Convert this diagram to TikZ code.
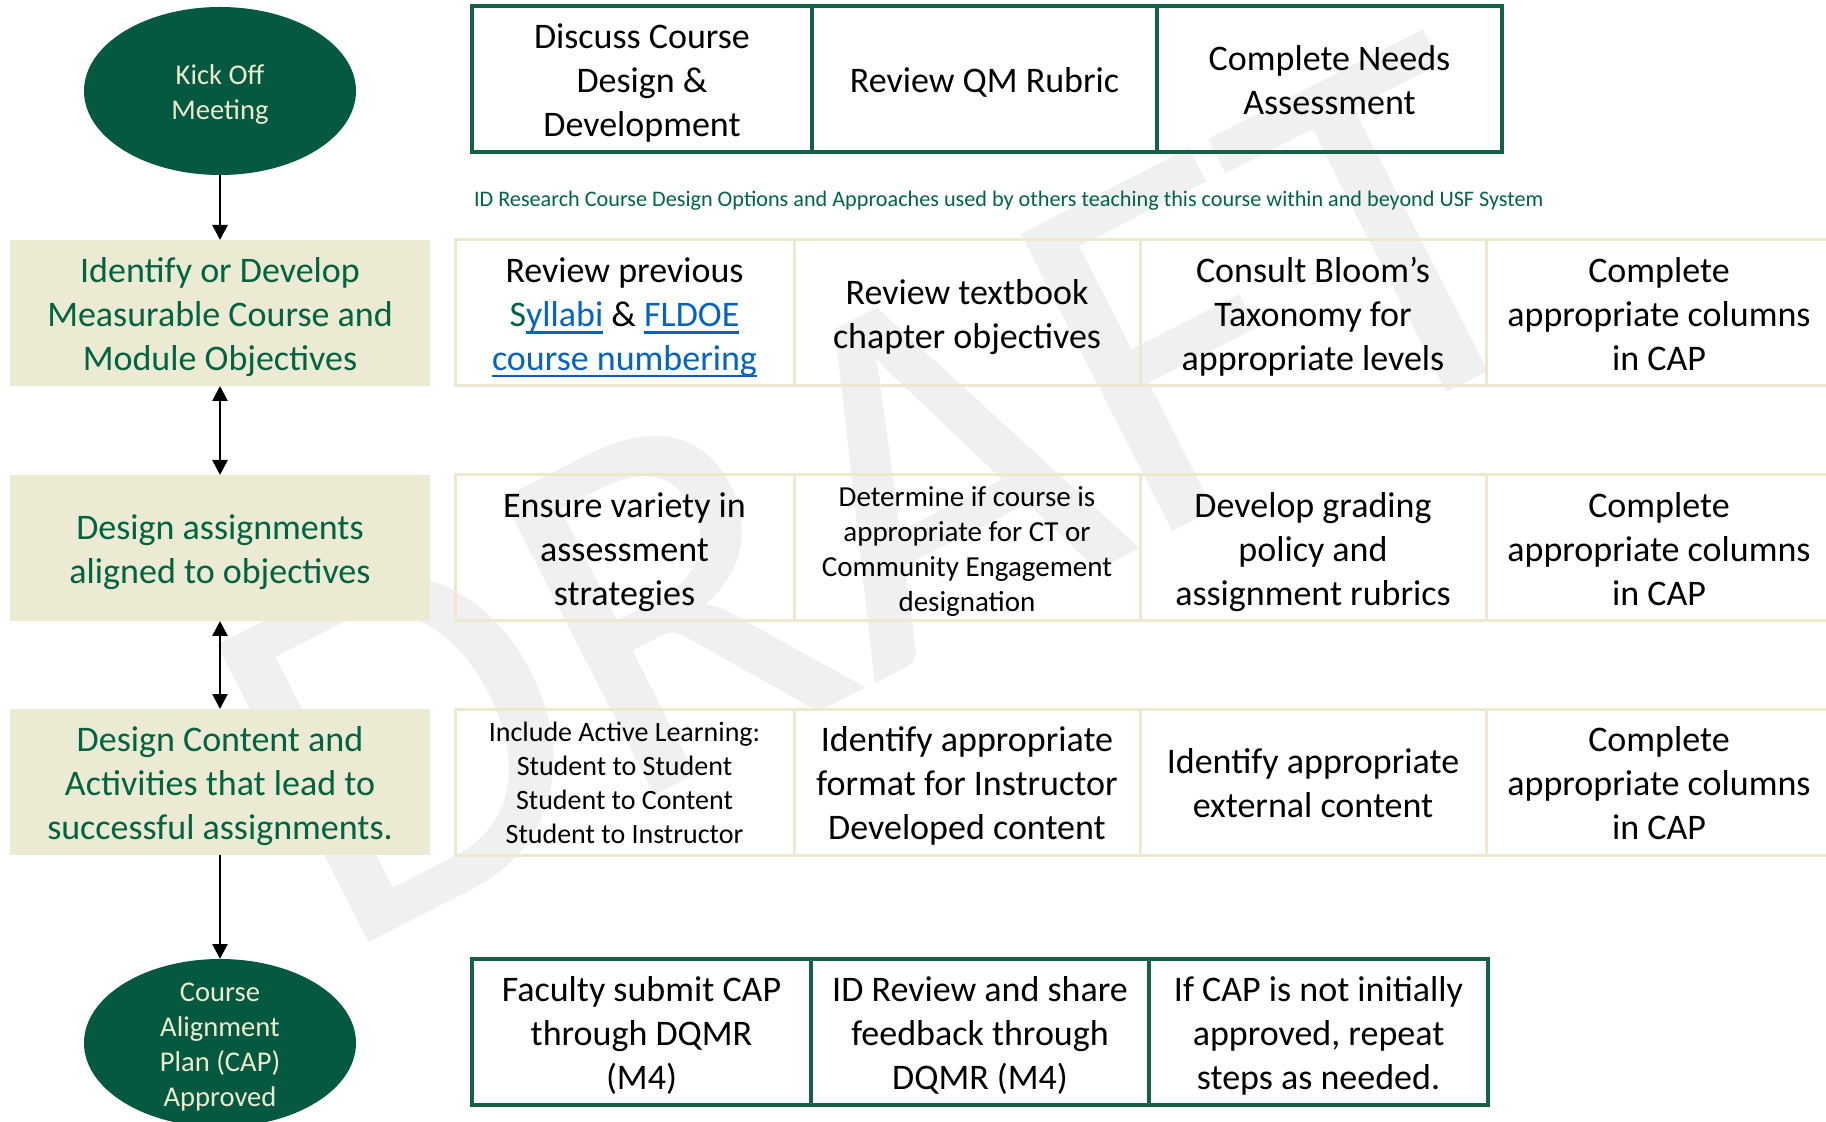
\documentclass[tikz,border=0pt]{standalone}
\usepackage{fontspec}
\setmainfont{Carlito}
\usetikzlibrary{arrows.meta,shapes.geometric}
\definecolor{usfgreen}{RGB}{4,89,64}
\definecolor{boxgreen}{RGB}{20,96,72}
\definecolor{stagetext}{RGB}{0,99,65}
\definecolor{idgreen}{RGB}{0,100,70}
\definecolor{cream}{RGB}{237,235,205}
\definecolor{sand}{RGB}{236,234,210}
\definecolor{cellline}{RGB}{236,233,208}
\definecolor{wmgray}{RGB}{240,240,240}
\definecolor{linkblue}{RGB}{5,99,193}
\newcommand\lnkul[1]{\setbox0\hbox{#1}\rlap{\rule[-0.2em]{\wd0}{0.065em}}\box0}
\newcommand\lnk[1]{\textcolor{linkblue}{\lnkul{#1}}}
\newcommand\stt{\rule{0pt}{1em}}
\newcommand\stb{\rule[-0.25em]{0pt}{0.25em}}
\begin{document}
\begin{tikzpicture}[x=0.5pt,y=-0.5pt,
  every node/.style={inner sep=0pt, outer sep=0pt},
  main/.style={font=\fontsize{18}{21.9}\selectfont, align=center},
  topcell/.style={main, draw=boxgreen, line width=1.7pt, minimum height=73pt},
  rowcell/.style={main, draw=cellline, line width=1.5pt, minimum height=73pt},
  stage/.style={main, fill=sand, text=stagetext, minimum width=210pt, minimum height=73pt},
  terminal/.style={ellipse, fill=usfgreen, text=cream, minimum width=136pt, minimum height=84pt, font=\fontsize{14.3}{17.5}\selectfont, align=center},
  wm/.style={text=wmgray, font=\fontsize{260}{260}\selectfont, rotate=27, anchor=base west},
  arr/.style={line width=1.3pt, -{Triangle[length=7.5pt,width=7.5pt]}},
  darr/.style={line width=1.3pt, {Triangle[length=7.5pt,width=7.5pt]}-{Triangle[length=7.5pt,width=7.5pt]}},
]
\useasboundingbox (0,0) rectangle (1826,1122);
\clip (0,0) rectangle (1826,1122);
\fill[white] (0,0) rectangle (1826,1122);

% watermark
\node[wm] (draft) at (337,958) {DRAFT};

% top row
\node[topcell, minimum width=170pt] (t1) at (642,79) {\stt Discuss Course\\Design \&\\Development\stb};
\node[topcell, minimum width=172.5pt] (t2) at (984.5,79) {\stt Review QM Rubric\stb};
\node[topcell, minimum width=172.5pt] (t3) at (1329.5,79) {\stt Complete Needs\\Assessment\stb};

\node[anchor=west, text=idgreen, font=\fontsize{11.1}{13}\selectfont] (idr) at (474,198) {\stt ID Research Course Design Options and Approaches used by others teaching this course within and beyond USF System\stb};

% row 1
\node[rowcell, minimum width=169.5pt] (r1a) at (624.5,313) {\stt Review previous\\\textcolor{stagetext}{S}\lnk{yllabi} \& \lnk{FLDOE}\\\lnk{course numbering}\stb};
\node[rowcell, minimum width=173pt] (r1b) at (967,313) {\stt Review textbook\\chapter objectives\stb};
\node[rowcell, minimum width=173pt] (r1c) at (1313,313) {\stt Consult Bloom’s\\Taxonomy for\\appropriate levels\stb};
\node[rowcell, minimum width=173pt] (r1d) at (1659,313) {\stt Complete\\appropriate columns\\in CAP\stb};

% row 2
\node[rowcell, minimum width=169.5pt] (r2a) at (624.5,548) {\stt Ensure variety in\\assessment\\strategies\stb};
\node[rowcell, minimum width=173pt, font=\fontsize{14.5}{17.5}\selectfont] (r2b) at (967,548) {\stt Determine if course is\\appropriate for CT or\\Community Engagement\\designation\stb};
\node[rowcell, minimum width=173pt] (r2c) at (1313,548) {\stt Develop grading\\policy and\\assignment rubrics\stb};
\node[rowcell, minimum width=173pt] (r2d) at (1659,548) {\stt Complete\\appropriate columns\\in CAP\stb};

% row 3
\node[rowcell, minimum width=169.5pt, font=\fontsize{14}{17}\selectfont] (r3a) at (624.5,782) {\stt Include Active Learning:\\Student to Student\\Student to Content\\Student to Instructor\stb};
\node[rowcell, minimum width=173pt] (r3b) at (967,782) {\stt Identify appropriate\\format for Instructor\\Developed content\stb};
\node[rowcell, minimum width=173pt] (r3c) at (1313,782) {\stt Identify appropriate\\external content\stb};
\node[rowcell, minimum width=173pt] (r3d) at (1659,782) {\stt Complete\\appropriate columns\\in CAP\stb};

% bottom row
\node[topcell, minimum width=169.5pt] (b1) at (641.5,1032) {\stt Faculty submit CAP\\through DQMR\\(M4)\stb};
\node[topcell, minimum width=169pt] (b2) at (980,1032) {\stt ID Review and share\\feedback through\\DQMR (M4)\stb};
\node[topcell, minimum width=169.5pt] (b3) at (1318.5,1032) {\stt If CAP is not initially\\approved, repeat\\steps as needed.\stb};

% stages
\node[stage] (s1) at (220,313) {\stt Identify or Develop\\Measurable Course and\\Module Objectives\stb};
\node[stage] (s2) at (220,548) {\stt Design assignments\\aligned to objectives\stb};
\node[stage] (s3) at (220,782) {\stt Design Content and\\Activities that lead to\\successful assignments.\stb};

% terminals
\node[terminal] (kick) at (220,91) {\stt Kick Off\\Meeting\stb};
\node[terminal, inner ysep=-25pt] (cap) at (220,1043) {\stt Course\\Alignment\\Plan (CAP)\\Approved\stb};

% connectors
\draw[arr] (kick.south) -- (s1.north);
\draw[darr] (s1.south) -- (s2.north);
\draw[darr] (s2.south) -- (s3.north);
\draw[arr] (s3.south) -- (cap.north);
\end{tikzpicture}
\end{document}
